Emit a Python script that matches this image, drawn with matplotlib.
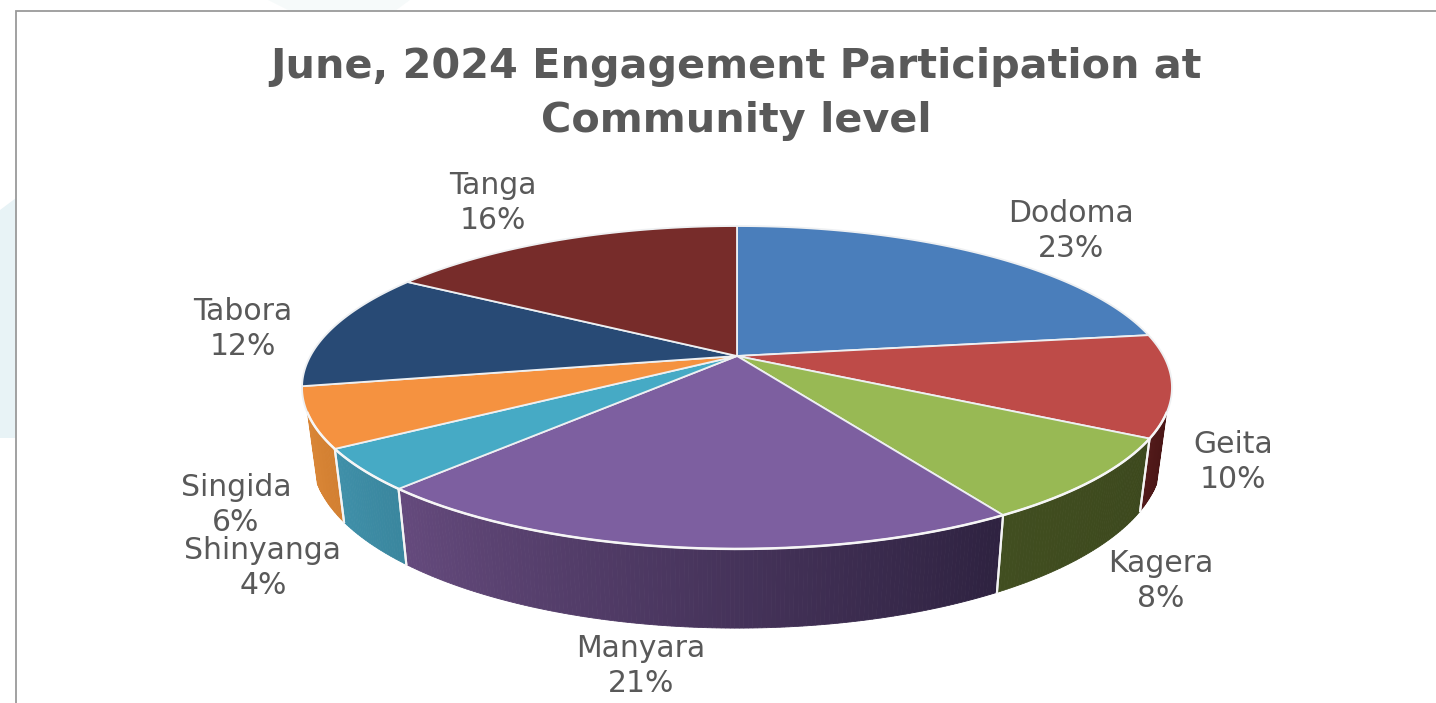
import numpy as np
import matplotlib
matplotlib.use("Agg")
import matplotlib.pyplot as plt
from matplotlib.colors import to_rgb

title = "June, 2024 Engagement Participation at\nCommunity level"
regions = ["Dodoma", "Geita", "Kagera", "Manyara", "Shinyanga", "Singida", "Tabora", "Tanga"]
shares = [22.8, 10.2, 8.3, 20.6, 4.1, 6.0, 11.8, 16.2]
top_colors = ["#4a7ebb", "#be4b48", "#98b954", "#7d5fa0", "#46aac5", "#f59240", "#284a75", "#772c2a"]
side_left = ["#2c4a70", "#521a1a", "#414e20", "#654a7d", "#3f90a9", "#d98637", "#1a3050", "#4a1a1a"]
side_right = ["#2c4a70", "#4a1616", "#3c481d", "#2e2240", "#3a869e", "#d27f30", "#1a3050", "#4a1a1a"]
label_pos = {"Dodoma": (1071, 231), "Geita": (1233, 462), "Kagera": (1161, 581),
             "Manyara": (641, 666), "Shinyanga": (263, 568), "Singida": (236, 505),
             "Tabora": (243, 329), "Tanga": (493, 203)}

W, H = 1436, 703
CX, CY = 737, 356
RX, RY, K = 426.6, 155.3, 0.195
SHIFT, BOTTOM_SX, BOTTOM_SY = 67.6, 0.977, 1.06
TEXT = "#595959"
FONT = "DejaVu Sans"

fig = plt.figure(figsize=(W / 100, H / 100), dpi=100, facecolor="white")
ax = fig.add_axes([0, 0, 1, 1])
ax.set_xlim(0, W)
ax.set_ylim(H, 0)
ax.axis("off")


def project(theta, radius=1.0, bottom=False):
    """Perspective view of a point on the pie disc; theta runs clockwise from 12 o'clock."""
    x = radius * np.sin(theta)
    y = radius * np.cos(theta)
    s = 1 / (1 + K * y)
    px, py = RX * x * s, RY * y * s
    if bottom:
        return CX + BOTTOM_SX * px, CY + SHIFT - BOTTOM_SY * py
    return CX + px, CY - py


# slide background behind the chart frame
ax.fill([0, 16, 16, 0], [210, 198, 438, 438], color="#e8f3f6", lw=0, zorder=0)
ax.fill([268, 410, 395, 290], [0, 0, 11, 11], color="#f6fafa", lw=0, zorder=0)
ax.plot([16, 16, W], [H, 11, 11], color="#9a9a9a", lw=1.3, zorder=1, solid_joinstyle="miter")

fractions = np.cumsum([0] + shares) / sum(shares)
angles = 2 * np.pi * fractions
VIS_START, VIS_END = np.radians(110), np.radians(250)

# side wall
for i in range(len(regions)):
    a0, a1 = max(angles[i], VIS_START), min(angles[i + 1], VIS_END)
    if a1 <= a0:
        continue
    steps = max(2, int((a1 - a0) / np.radians(0.5)))
    t = np.linspace(a0, a1, steps + 1)
    c0, c1 = np.array(to_rgb(side_right[i])), np.array(to_rgb(side_left[i]))
    for j in range(steps):
        tt = t[j:j + 2]
        xt, yt = project(tt)
        xb, yb = project(tt, bottom=True)
        col = c0 + (c1 - c0) * (j + 0.5) / steps
        ax.fill(np.r_[xt, xb[::-1]], np.r_[yt, yb[::-1]], color=col, lw=0.6, zorder=2)
    for edge in (angles[i], angles[i + 1]):
        if VIS_START < edge < VIS_END:
            xt, yt = project(edge)
            xb, yb = project(edge, bottom=True)
            ax.plot([xt, xb], [yt, yb], color="#f4f4f4", lw=1.5, zorder=3)

# top surface
for i in range(len(regions)):
    t = np.linspace(angles[i], angles[i + 1], 120)
    xs, ys = project(t)
    ax.fill(np.r_[CX, xs], np.r_[CY, ys], facecolor=top_colors[i],
            edgecolor="#eef0f2", lw=1.3, joinstyle="round", zorder=4)

# brighter rim along the front of the top surface
t = np.linspace(VIS_START, VIS_END, 300)
ax.plot(*project(t), color="#f6f6f6", lw=1.8, zorder=5)

ax.text(736, 94, title, ha="center", va="center", fontsize=29.8, fontweight="bold",
        color=TEXT, family=FONT, linespacing=1.47, zorder=6)

for name, share in zip(regions, shares):
    lx, ly = label_pos[name]
    ax.text(lx, ly, f"{name}\n{round(share)}%", ha="center", va="center", fontsize=21.5,
            color=TEXT, family=FONT, linespacing=1.26, zorder=6)

fig.savefig("out.png", dpi=100, facecolor="white")
